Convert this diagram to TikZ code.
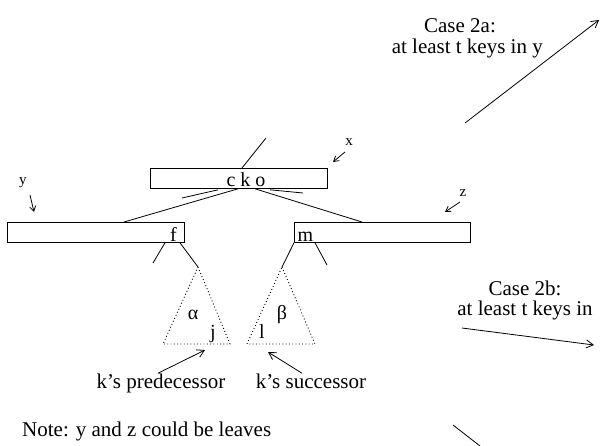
\documentclass[tikz,border=0pt]{standalone}
\usepackage{fontspec}
\setmainfont{Liberation Serif}
\usetikzlibrary{arrows.meta,positioning,calc}
\tikzset{
  keybox/.style={draw, line width=0.8pt, minimum height=20pt, inner sep=0pt, anchor=north west},
  keytext/.style={font=\fontsize{20}{24}\selectfont, inner sep=0pt, anchor=base},
  tag/.style={font=\fontsize{21}{25}\selectfont, inner sep=0pt, anchor=base},
  ptrtag/.style={font=\fontsize{15}{18}\selectfont, inner sep=0pt},
  edge/.style={line width=0.8pt},
  subtree/.style={line width=0.9pt, dash pattern=on 0.9pt off 2.4pt},
  pointer/.style={line width=0.8pt, -{Straight Barb[length=7pt, width=8pt]}},
  smallptr/.style={line width=0.8pt, -{Straight Barb[length=5pt, width=6pt]}}
}

\begin{document}
\begin{tikzpicture}[x=1pt, y=-1pt]
  \useasboundingbox (0,0) rectangle (600,445);

  % the three nodes of the B-tree
  \node[keybox, minimum width=177pt] (x) at (150,168) {};
  \node[keybox, minimum width=177pt] (y) at (7,222) {};
  \node[keybox, minimum width=176pt] (z) at (294,222) {};
  \node[keytext] (cko) at (246,186) {c k o};
  \node[keytext] (kf) at (173.5,241) {f};
  \node[keytext] (km) at (305.5,241) {m};

  % free ends
  \coordinate (parent) at (266,138);
  \coordinate (hangL) at (182,198);
  \coordinate (hangR) at (303,193);
  \coordinate (yLeft) at (153,263);
  \coordinate (zRight) at (327,265);

  \draw[edge] ([xshift=92pt]x.north west) -- (parent);
  \draw[edge] ([xshift=88pt]x.south west) -- ([xshift=117pt]y.north west);
  \draw[edge] ([xshift=105pt]x.south west) -- ([xshift=68pt]z.north west);
  \draw[edge] ([shift={(68,1)}]x.south west) -- (hangL);
  \draw[edge] ([shift={(120,1)}]x.south west) -- (hangR);

  % subtrees alpha and beta
  \coordinate (aTop) at (198,267);
  \coordinate (aL) at (163,344);
  \coordinate (aR) at (230,344);
  \coordinate (bTop) at (282,267);
  \coordinate (bL) at (247,344);
  \coordinate (bR) at (315,344);
  \draw[subtree] (aTop) -- (aR) -- (aL) -- cycle;
  \draw[subtree] (bTop) -- (bR) -- (bL) -- cycle;
  \node[keytext, anchor=center] (alpha) at (193,315) {α};
  \node[keytext, anchor=center] (beta) at (282,315) {β};
  \node[keytext] (kj) at (213,338) {j};
  \node[keytext] (kl) at (262,338) {l};

  \draw[edge] ([xshift=158pt]y.south west) -- (yLeft);
  \draw[edge] ([xshift=173pt]y.south west) -- (aTop);
  \draw[edge] (z.south west) -- (bTop);
  \draw[edge] ([xshift=21pt]z.south west) -- (zRight);

  % predecessor / successor
  \node[tag] (pred) at (161,388) {k’s predecessor};
  \node[tag] (succ) at (311,388) {k’s successor};
  \coordinate (predTip) at (205,350);
  \coordinate (succTip) at (268,352);
  \draw[pointer] ([xshift=-3pt]pred.north) -- (predTip);
  \draw[pointer] ([xshift=-9pt]succ.north) -- (succTip);

  % pointer names
  \node[ptrtag] (xname) at (349,142) {x};
  \node[ptrtag] (yname) at (23,183) {y};
  \node[ptrtag] (zname) at (463,193) {z};
  \coordinate (xTip) at (333,162);
  \coordinate (yTip) at (34,212);
  \coordinate (zTip) at (445,212);
  \draw[smallptr] ([shift={(-4,10)}]xname.center) -- (xTip);
  \draw[smallptr] ([shift={(7,12)}]yname.center) -- (yTip);
  \draw[smallptr] ([shift={(-3,9)}]zname.center) -- (zTip);

  % cases
  \node[tag] (case2a) at (460,32) {Case 2a:};
  \node[tag, anchor=base east] (need2a) at (543,53) {at least t keys in y};
  \node[tag, align=center, font=\fontsize{21}{19.5}\selectfont] (case2b) at (525,315)
    {Case 2b:\\at least t keys in};
  \coordinate (from2a) at (465,123);
  \coordinate (to2a) at (599,20);
  \coordinate (from2b) at (462,328);
  \coordinate (to2b) at (594,345);
  \coordinate (from2c) at (453,425);
  \coordinate (to2c) at (480,446);
  \draw[pointer] (from2a) -- (to2a);
  \draw[pointer] (from2b) -- (to2b);
  \draw[edge] (from2c) -- (to2c);

  \node[tag, anchor=base west] (note) at (22,436) {Note: y and z could be leaves};
\end{tikzpicture}
\end{document}
